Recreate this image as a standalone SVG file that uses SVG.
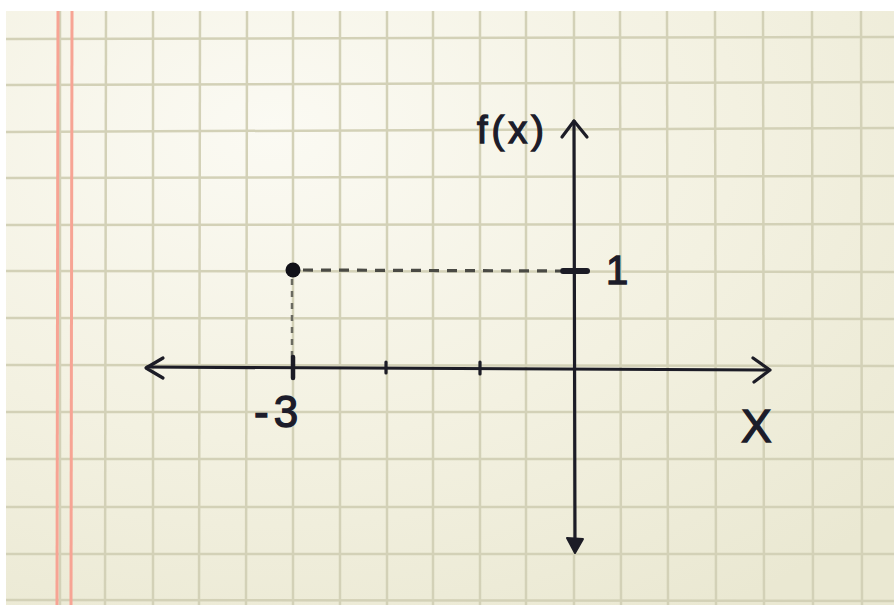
<svg xmlns="http://www.w3.org/2000/svg" width="894" height="605" viewBox="0 0 894 605">
<defs>
<radialGradient id="paper" cx="0.3" cy="0.2" r="0.95">
<stop offset="0" stop-color="#fbfaf3"/>
<stop offset="0.55" stop-color="#f3f1e1"/>
<stop offset="1" stop-color="#eae8d2"/>
</radialGradient>
<style>
.grid line{stroke:#d3d1b7;stroke-width:2.5}
.margin{stroke:#f7a494;stroke-width:3}
.ink{stroke:#1c1c26;stroke-width:3.2;fill:none;stroke-linecap:round;stroke-linejoin:round}
.dash{stroke:#4a4a44;stroke-width:3.2;stroke-dasharray:10 8;fill:none}
.lbl{font-family:"Liberation Sans",Arial,sans-serif;fill:#1c1c2a;stroke:#1c1c2a;stroke-width:1.3}
</style>
</defs>
<rect width="894" height="605" fill="#ffffff"/>
<rect x="6" y="11" width="888" height="594" fill="url(#paper)"/>
<g class="grid" id="grid">
<line x1="6" y1="39" x2="894" y2="37"/>
<line x1="6" y1="85" x2="894" y2="82"/>
<line x1="6" y1="132" x2="894" y2="128"/>
<line x1="6" y1="178" x2="894" y2="176"/>
<line x1="6" y1="225" x2="894" y2="224"/>
<line x1="6" y1="271" x2="894" y2="272"/>
<line x1="6" y1="318" x2="894" y2="319"/>
<line x1="6" y1="365" x2="894" y2="366"/>
<line x1="6" y1="412" x2="894" y2="412"/>
<line x1="6" y1="459" x2="894" y2="459"/>
<line x1="6" y1="507" x2="894" y2="507"/>
<line x1="6" y1="554" x2="894" y2="554"/>
<line x1="6" y1="600" x2="894" y2="601"/>
<line x1="60" y1="11" x2="60" y2="605"/>
<line x1="106" y1="11" x2="105" y2="605"/>
<line x1="153" y1="11" x2="153" y2="605"/>
<line x1="200" y1="11" x2="199" y2="605"/>
<line x1="247" y1="11" x2="246" y2="605"/>
<line x1="293" y1="11" x2="293" y2="605"/>
<line x1="340" y1="11" x2="340" y2="605"/>
<line x1="387" y1="11" x2="387" y2="605"/>
<line x1="433" y1="11" x2="433" y2="605"/>
<line x1="480" y1="11" x2="480" y2="605"/>
<line x1="526" y1="11" x2="526" y2="605"/>
<line x1="574" y1="11" x2="574" y2="605"/>
<line x1="620" y1="11" x2="621" y2="605"/>
<line x1="667" y1="11" x2="668" y2="605"/>
<line x1="715" y1="11" x2="716" y2="605"/>
<line x1="763" y1="11" x2="764" y2="605"/>
<line x1="812" y1="11" x2="813" y2="605"/>
<line x1="861" y1="11" x2="862" y2="605"/>
</g>
<g id="margin">
<line class="margin" x1="58" y1="11" x2="57" y2="605"/>
<line class="margin" x1="72" y1="11" x2="71" y2="605"/>
</g>
<g id="connectors">
<line class="dash" x1="303" y1="270" x2="560" y2="271"/>
<line class="dash" x1="292" y1="279" x2="292" y2="360" style="stroke-width:2.5;stroke-dasharray:6 6;stroke:#6a6a60"/>
</g>
<g id="x-axis">
<line class="ink" x1="147" y1="367" x2="768" y2="370"/>
<polyline class="ink" points="163,358 146,368 163,378"/>
<polyline class="ink" points="753,358 770,370 754,382"/>
<line class="ink" x1="293" y1="357" x2="293" y2="378" style="stroke-width:4.5"/>
<line class="ink" x1="386" y1="362" x2="386" y2="373"/>
<line class="ink" x1="480" y1="362" x2="480" y2="374"/>
</g>
<g id="y-axis">
<line class="ink" x1="574" y1="121" x2="575" y2="550"/>
<polyline class="ink" points="562,137 574,121 587,137"/>
<path d="M567,538 L575,553 L583,539 Z" fill="#1c1c26" stroke="#1c1c26" stroke-width="2" stroke-linejoin="round"/>
<line class="ink" x1="563" y1="271" x2="587" y2="271" style="stroke-width:6"/>
</g>
<g id="point">
<circle cx="293" cy="270" r="7.5" fill="#111118"/>
</g>
<g id="labels">
<text class="lbl" x="477" y="143" font-size="38" letter-spacing="4">f(x)</text>
<text class="lbl" x="617" y="284" font-size="40" text-anchor="middle">1</text>
<text class="lbl" x="254" y="427" font-size="44" letter-spacing="5">-3</text>
<text class="lbl" x="741" y="442" font-size="46">X</text>
</g>
</svg>
